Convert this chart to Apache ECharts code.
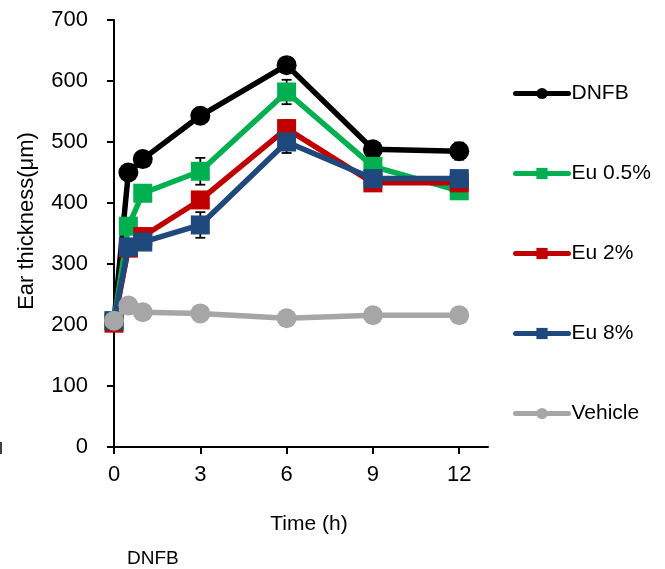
<!DOCTYPE html>
<html>
<head>
<meta charset="utf-8">
<script src="https://cdn.jsdelivr.net/npm/echarts@6/dist/echarts.min.js"></script>
<style>html,body{margin:0;padding:0;background:#fff}#c{width:665px;height:569px}</style>
</head>
<body>
<div id="c"></div>
<script>
var timePoints = [0, 0.5, 1, 3, 6, 9, 12];
var xTicks = [0, 3, 6, 9, 12];
var seriesNames = ['DNFB', 'Eu 0.5%', 'Eu 2%', 'Eu 8%', 'Vehicle'];
var dnfb    = [206, 450, 472, 543, 626, 488, 485];
var eu05    = [207, 362, 416, 452, 582, 460, 420];
var eu2     = [203, 326, 345, 405, 522, 433, 433];
var eu8     = [207, 328, 336, 364, 500, 440, 440];
var vehicle = [207, 232, 221, 219, 211, 216, 216];
var dnfbErr    = [0, 6, 10, 8, 12, 6, 14];
var eu05Err    = [0, 8, 9, 22, 20, 8, 8];
var eu2Err     = [0, 6, 8, 10, 14, 6, 6];
var eu8Err     = [0, 6, 8, 21, 18, 6, 6];
var vehicleErr = [0, 4, 4, 4, 4, 4, 4];

var colors = ['#000000', '#00b050', '#c00000', '#1f497d', '#a6a6a6'];
var symbols = ['circle', 'rect', 'rect', 'rect', 'circle'];
var values = [dnfb, eu05, eu2, eu8, vehicle];
var errs = [dnfbErr, eu05Err, eu2Err, eu8Err, vehicleErr];

var chart = echarts.init(document.getElementById('c'));
var font = 'Liberation Sans, Arial, sans-serif';
var series = [];
values.forEach(function (vals, i) {
  var errData = [];
  timePoints.forEach(function (t, j) {
    if (errs[i][j] > 0) errData.push([t, vals[j] - errs[i][j], vals[j] + errs[i][j]]);
  });
  series.push({
    type: 'custom',
    name: seriesNames[i] + ' err',
    data: errData,
    z: 2,
    silent: true,
    renderItem: function (params, api) {
      var x = api.value(0);
      var lo = api.coord([x, api.value(1)]);
      var hi = api.coord([x, api.value(2)]);
      var w = 5;
      var st = { stroke: '#000', lineWidth: 1.8 };
      return {
        type: 'group',
        children: [
          { type: 'line', shape: { x1: lo[0], y1: lo[1], x2: hi[0], y2: hi[1] }, style: st },
          { type: 'line', shape: { x1: lo[0] - w, y1: lo[1], x2: lo[0] + w, y2: lo[1] }, style: st },
          { type: 'line', shape: { x1: hi[0] - w, y1: hi[1], x2: hi[0] + w, y2: hi[1] }, style: st }
        ]
      };
    }
  });
});
values.forEach(function (vals, i) {
  series.push({
    type: 'line',
    name: seriesNames[i],
    data: timePoints.map(function (t, j) { return [t, vals[j]]; }),
    symbol: symbols[i],
    symbolSize: symbols[i] === 'circle' ? 20 : 19,
    showAllSymbol: true,
    z: 3 + i,
    lineStyle: { color: colors[i], width: 5.5 },
    itemStyle: { color: colors[i] },
    emphasis: { disabled: true },
    animation: false
  });
});

chart.setOption({
  animation: false,
  grid: { left: 114, right: 177, top: 20, bottom: 122 },
  legend: {
    data: seriesNames,
    orient: 'vertical',
    left: 513,
    top: 83,
    padding: 0,
    itemWidth: 53,
    itemHeight: 14,
    itemGap: 59,
    lineStyle: { width: 5, cap: 'round' },
    textStyle: { fontSize: 21, color: '#000', fontFamily: font, padding: [0, 0, 0, -2] }
  },
  xAxis: {
    type: 'value',
    min: 0,
    max: 13,
    interval: 3,
    axisLine: { lineStyle: { color: '#000', width: 2 } },
    axisTick: { length: 7, lineStyle: { color: '#000', width: 2 }, customValues: xTicks },
    axisLabel: { fontSize: 22, color: '#000', fontFamily: font, margin: 17, customValues: xTicks },
    splitLine: { show: false }
  },
  yAxis: {
    type: 'value',
    min: 0,
    max: 700,
    interval: 100,
    axisLine: { show: true, lineStyle: { color: '#000', width: 2 } },
    axisTick: { show: true, length: 7, lineStyle: { color: '#000', width: 2 } },
    axisLabel: { fontSize: 22, color: '#000', fontFamily: font, margin: 26 },
    splitLine: { show: false }
  },
  graphic: [
    { type: 'text', x: 27, y: 221, rotation: Math.PI / 2,
      style: { text: 'Ear thickness(\u03bcm)', fontSize: 22, fill: '#000', fontFamily: font, align: 'center', verticalAlign: 'middle' } },
    { type: 'text', x: 309, y: 524,
      style: { text: 'Time (h)', fontSize: 21, fill: '#000', fontFamily: font, align: 'center', verticalAlign: 'middle' } },
    { type: 'text', x: 127, y: 559,
      style: { text: 'DNFB', fontSize: 19, fill: '#000', fontFamily: font, align: 'left', verticalAlign: 'middle' } },
    { type: 'line', shape: { x1: 1, y1: 442, x2: 1, y2: 454 }, style: { stroke: '#000', lineWidth: 1.5 } }
  ],
  series: series
});
</script>
</body>
</html>
